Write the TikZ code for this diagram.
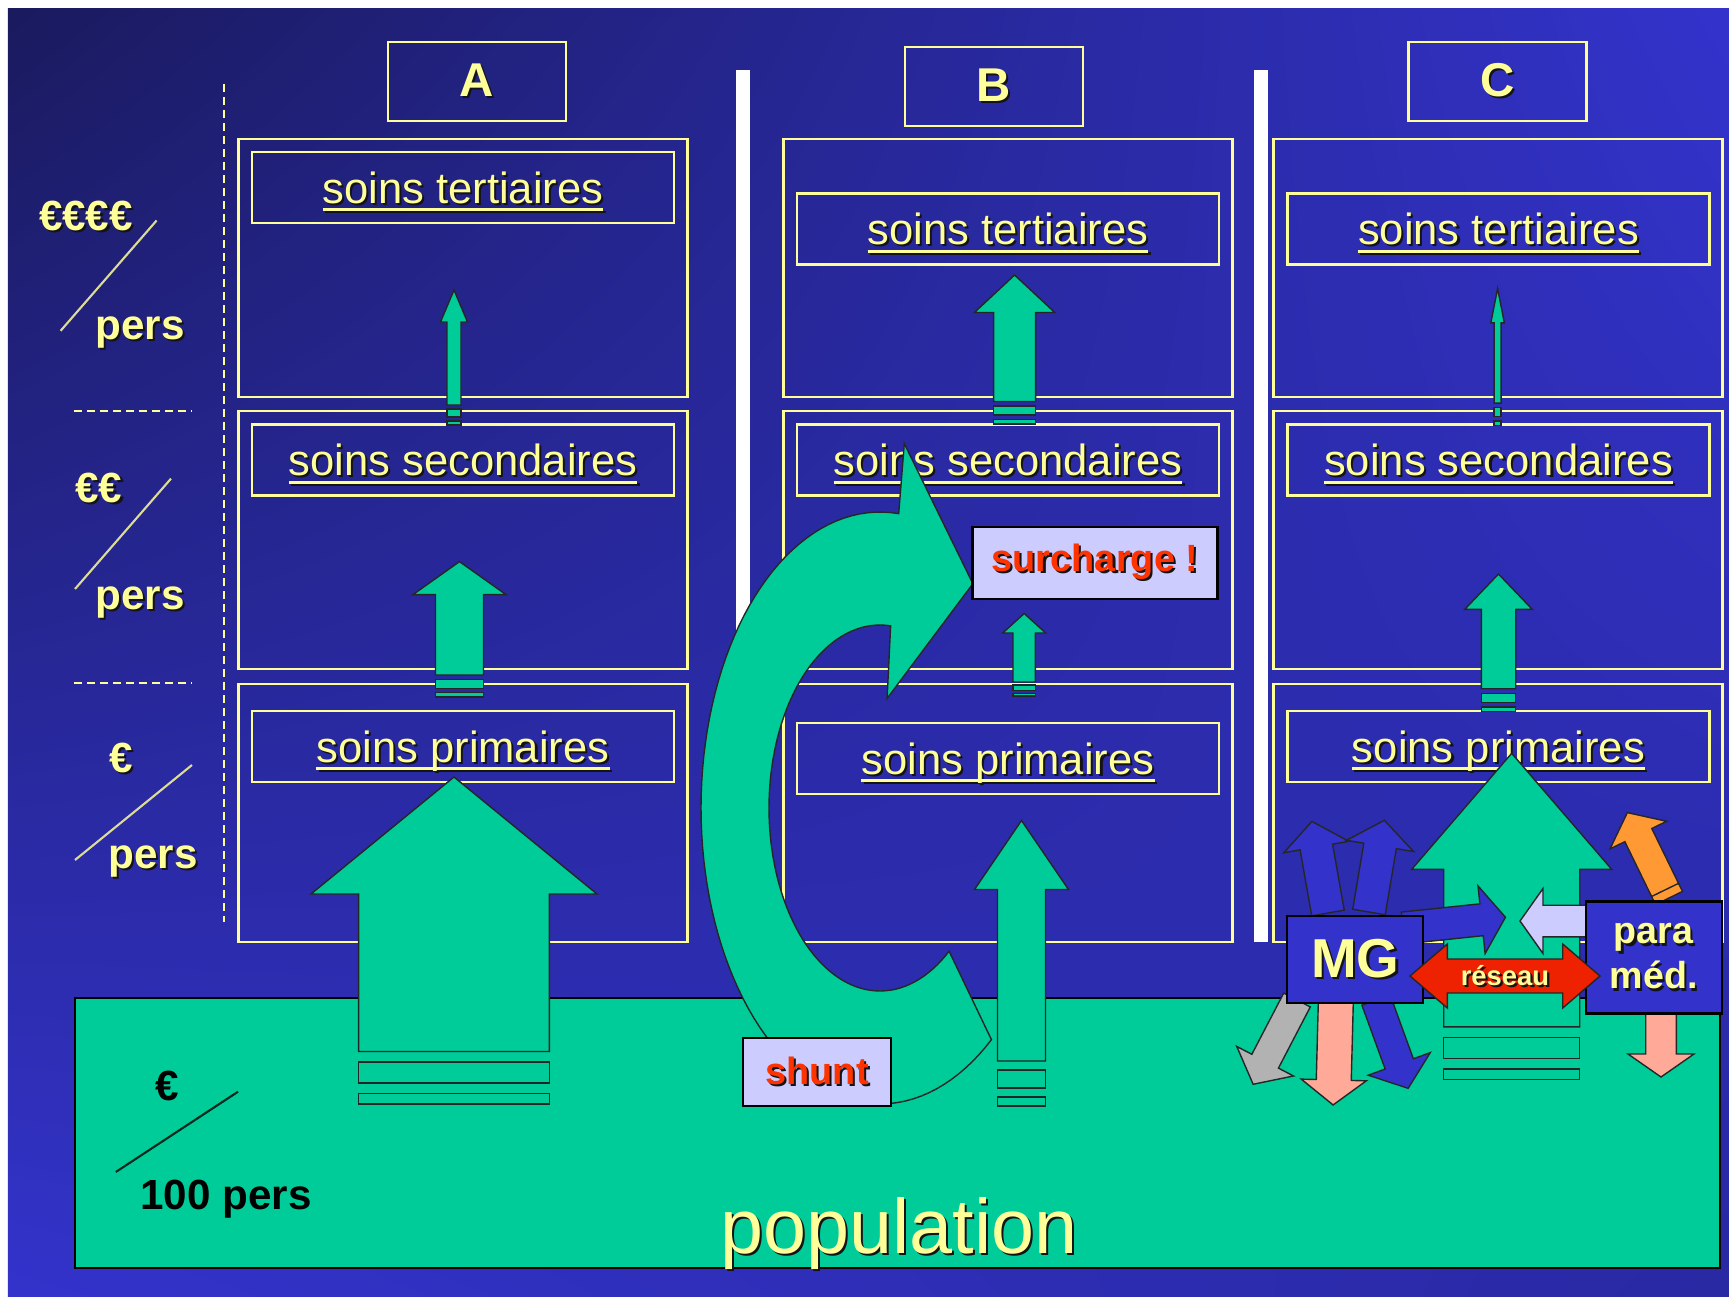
\documentclass[tikz,border=0pt]{standalone}
\usepackage{fontspec}
\setmainfont{Liberation Sans}
\usepackage{tikz}
\usetikzlibrary{shadings}
\usepackage{xcolor}
\definecolor{bgdark}{RGB}{26,26,94}
\definecolor{bgblue}{RGB}{51,51,204}
\definecolor{boxyellow}{RGB}{255,255,153}
\definecolor{slashyellow}{RGB}{220,220,150}
\definecolor{popgreen}{RGB}{0,204,153}
\definecolor{mgblue}{RGB}{51,51,204}
\definecolor{lavender}{RGB}{204,204,255}
\definecolor{salmon}{RGB}{255,170,153}
\definecolor{greyarrow}{RGB}{178,178,178}
\definecolor{paraorange}{RGB}{255,153,51}
\definecolor{alertred}{RGB}{255,51,0}
\definecolor{netred}{RGB}{238,34,0}
\definecolor{shadowc}{RGB}{20,20,20}
\newcommand\shd[1]{\rlap{\kern0.6pt\raisebox{-0.6pt}{\color{shadowc}#1}}#1}
\newcommand\ulx[1]{\setbox0=\hbox{#1}\rlap{\rule[-2.3pt]{\wd0}{0.75pt}}\box0}
\tikzstyle{outerbox} = [draw=boxyellow, line width=0.6pt, minimum width=44.9mm, minimum height=25.8mm]
\tikzstyle{soinbox} = [draw=boxyellow, line width=0.6pt, minimum width=42.2mm, minimum height=7.1mm, inner sep=0pt, text=boxyellow, text height=3.1mm, text depth=0pt, font=\fontsize{12.4}{14}\selectfont]
\tikzstyle{letterbox} = [draw=boxyellow, line width=0.6pt, minimum width=17.8mm, minimum height=7.9mm, text=boxyellow, font=\bfseries\fontsize{13.5}{16}\selectfont]
\tikzstyle{eurolabel} = [anchor=base, text=boxyellow, font=\bfseries\fontsize{12}{14}\selectfont]
\tikzstyle{slash} = [draw=slashyellow, line width=0.6pt]
\tikzstyle{guide} = [draw=boxyellow, line width=0.6pt, dash pattern=on 2.3pt off 1.4pt]
\tikzstyle{greenarrow} = [fill=popgreen, draw=black!85, line width=0.4pt]
\tikzstyle{smallarrow} = [draw=black!85, line width=0.4pt]
\tikzstyle{alertbox} = [fill=lavender, draw=black, line width=0.6pt, inner sep=0pt, text=alertred, font=\bfseries\fontsize{10.8}{13}\selectfont]
\tikzstyle{actor} = [fill=mgblue, draw=black, line width=0.6pt, inner sep=0pt, text=boxyellow]

\begin{document}
\begin{tikzpicture}[x=0.1mm, y=-0.1mm]
\useasboundingbox (0,0) rectangle (1729,1297);
\fill[white] (0,0) rectangle (1729,1297);
\shade[upper left=bgdark, upper right=bgblue, lower left=bgblue, lower right=bgblue!80!black] (8,8) rectangle (1729,1297);

% cost scale on the left
\draw[guide] (224,84) -- (224,922);
\draw[guide] (74,411) -- (192,411);
\draw[guide] (74,683) -- (192,683);
\node[eurolabel] (cost3) at (86,230) {\shd{€€€€}};
\node[eurolabel] (pers3) at (140,339) {\shd{pers}};
\draw[slash] (156.6,220.5) -- (60.6,330.8);
\node[eurolabel] (cost2) at (99,502) {\shd{€€}};
\node[eurolabel] (pers2) at (140,609) {\shd{pers}};
\draw[slash] (171,478.6) -- (75,589);
\node[eurolabel] (cost1) at (121,772.5) {\shd{€}};
\node[eurolabel] (pers1) at (153,868.7) {\shd{pers}};
\draw[slash] (192,765) -- (75,860);

% separators
\fill[white] (735.5,69.5) rectangle (750,942);
\fill[white] (1254,69.5) rectangle (1268,942);

% the three systems
\foreach \col/\cx in {A/463,B/1008,C/1498} {
  \node[outerbox] (\col tert) at (\cx,268) {};
  \node[outerbox] (\col sec) at (\cx,540) {};
  \node[outerbox] (\col prim) at (\cx,813) {};
}
\node[letterbox] (Ahead) at (477,81.5) {\shd{A}};
\node[letterbox] (Bhead) at (994,86.5) {\shd{B}};
\node[letterbox] (Chead) at (1497.5,81.5) {\shd{C}};

\node[soinbox] (Aterlab) at (463,187.5) {\shd{\ulx{soins tertiaires}}};
\node[soinbox] (Aseclab) at (463,460) {\shd{\ulx{soins secondaires}}};
\node[soinbox] (Aprilab) at (463,746.5) {\shd{\ulx{soins primaires}}};
\node[soinbox] (Bterlab) at (1008,229) {\shd{\ulx{soins tertiaires}}};
\node[soinbox] (Bseclab) at (1008,460) {\shd{\ulx{soins secondaires}}};
\node[soinbox] (Bprilab) at (1008,758.5) {\shd{\ulx{soins primaires}}};
\node[soinbox] (Cterlab) at (1498.5,229) {\shd{\ulx{soins tertiaires}}};
\node[soinbox] (Cseclab) at (1498.5,460) {\shd{\ulx{soins secondaires}}};
\node[soinbox] (Cprilab) at (1498.5,746.5) {\shd{\ulx{soins primaires}}};

% population
\draw[fill=popgreen, draw=black, line width=0.5pt] (75,998) rectangle (1720,1268);
\node[anchor=base, font=\bfseries\fontsize{12}{14}\selectfont] (cost0) at (167.6,1100.6) {€};
\draw[draw=black!80!popgreen, line width=0.6pt] (238,1091.7) -- (115.8,1172);
\node[anchor=base, font=\bfseries\fontsize{12}{14}\selectfont] (centpers) at (226,1209) {100 pers};
\node[anchor=base, text=boxyellow, font=\fontsize{22}{26}\selectfont] (poptext) at (899,1253) {\shd{population}};

% striped green arrows: x, tip, tail, head half, head length, shaft half, stripe
\foreach \ax/\atip/\atail/\ahead/\alen/\ashaft/\astripe in {
    454/290/425/13.5/32/7/4, 459.5/561.6/697/46.5/33/24/4.4, 454/777/1104/143/117/95.3/10.5,
    1014.6/275/424/40.2/37.5/21/4.5, 1024.2/613.5/696/21.5/19.5/11.2/2.8, 1021.5/820.5/1106/47/69/24/9,
    1497.6/288.5/425.6/6.75/34.3/3.5/4.5, 1498.5/574/711.7/33.7/35.3/17.2/4.6, 1511.7/753.3/1079.3/100/116/68/10.5} {
  \draw[greenarrow] (\ax,\atip) -- ({\ax+\ahead},{\atip+\alen}) -- ({\ax+\ashaft},{\atip+\alen})
    -- ({\ax+\ashaft},{\atail-5*\astripe}) -- ({\ax-\ashaft},{\atail-5*\astripe})
    -- ({\ax-\ashaft},{\atip+\alen}) -- ({\ax-\ahead},{\atip+\alen}) -- cycle;
  \draw[greenarrow] ({\ax-\ashaft},{\atail-4*\astripe}) rectangle ({\ax+\ashaft},{\atail-2*\astripe});
  \draw[greenarrow] ({\ax-\ashaft},{\atail-\astripe}) rectangle ({\ax+\ashaft},\atail);
}

% shunt arrow
\draw[greenarrow] plot[domain=51.5:276, samples=90] ({880+179*cos(\x)},{808+296*sin(\x)})
  -- (904.3,443.6) -- (972.9,583.7) -- (887.1,698.4)
  -- plot[domain=51.5:275.5, samples=90] ({880+111*cos(327-\x)},{808+183*sin(327-\x)}) -- cycle;
\node[alertbox, minimum width=14.8mm, minimum height=6.8mm] (shunt) at (817,1071.8) {\shd{shunt}};
\node[alertbox, minimum width=24.5mm, minimum height=7.2mm] (surcharge) at (1095,563) {\shd{surcharge !}};

% network around the GP
\foreach \px/\py/\ang/\len/\hd/\hl/\sh/\col in {
    1328/913/100/93/33/26/16.5/mgblue, 1369/912/80.5/93/34/26/16.5/mgblue,
    1403/928/6/103/34/24/16/mgblue, 1297/1000/-117.5/95/32/26/15/greyarrow,
    1336/995/-91.5/110/32.5/25/17.5/salmon, 1376/1000/-70/94/33/26/15/mgblue,
    1605/921/180/85/32.5/23/15.8/lavender, 1669/898/116/95/31.5/25/15/paraorange,
    1661/1008/-90/69/33/23/15.3/salmon} {
  \draw[smallarrow, fill=\col, shift={(\px,\py)}, rotate=\ang] (0,-\sh) -- ({\len-\hl},-\sh)
    -- ({\len-\hl},-\hd) -- (\len,0) -- ({\len-\hl},\hd) -- ({\len-\hl},\sh) -- (0,\sh) -- cycle;
}
\draw[smallarrow, shift={(1669,898)}, rotate=116] (9,-15) -- (9,15);

\node[actor, minimum width=13.6mm, minimum height=8.7mm, font=\bfseries\fontsize{15.6}{18}\selectfont] (MG) at (1355.4,959.7) {\shd{MG}};
\node[actor, minimum width=13.6mm, minimum height=11.2mm, align=center, font=\bfseries\fontsize{10.7}{12.8}\selectfont] (para) at (1653.7,957.5) {\shd{para}\\\shd{méd.}};
\draw[smallarrow, fill=netred] (1410,976) -- (1447.3,944) -- (1447.3,959) -- (1562.7,959) -- (1562.7,944)
  -- (1600,976) -- (1562.7,1008) -- (1562.7,993) -- (1447.3,993) -- (1447.3,1008) -- cycle;
\node[text=boxyellow, font=\bfseries\fontsize{7.8}{9}\selectfont] (reseau) at (1505,977) {\shd{réseau}};
\end{tikzpicture}
\end{document}
